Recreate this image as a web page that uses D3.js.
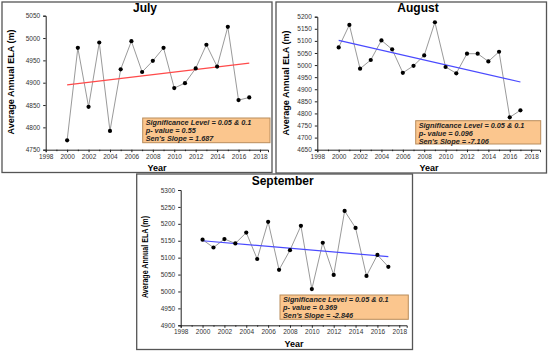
<!DOCTYPE html>
<html>
<head>
<meta charset="utf-8">
<script src="https://cdn.jsdelivr.net/npm/d3@7"></script>
<style>
  body { margin: 0; background: #fff; }
  svg text { font-family: Arial, "Liberation Sans", sans-serif; }
  .tick text { fill: #333; font-size: 6.5px; }
  .tick line, .domain { stroke: #222; }
</style>
</head>
<body>
<div id="chart"></div>
<script>
// ------ Data ---------------//
var years = [2000, 2001, 2002, 2003, 2004, 2005, 2006, 2007, 2008,
             2009, 2010, 2011, 2012, 2013, 2014, 2015, 2016, 2017];

var julyELA = [4771, 4978, 4846, 4990, 4792, 4930, 4993, 4924, 4949,
               4978, 4888, 4899, 4932, 4985, 4936, 5025, 4861, 4867];
var augustELA = [5073, 5166, 4985, 5021, 5102, 5065, 4968, 4997, 5040,
                 5177, 4992, 4966, 5047, 5047, 5015, 5055, 4784, 4813];
var septemberELA = [5153, 5130, 5155, 5142, 5174, 5096, 5206, 5064, 5122,
                    5194, 5007, 5144, 5049, 5238, 5188, 5046, 5108, 5073];

// trend line values at first and last year
var trendYears = [2000, 2017];
var julyTrend = [4895, 4944];
var augustTrend = [5102, 4930];
var septemberTrend = [5150, 5103];

var xTicks = [1998, 2000, 2002, 2004, 2006, 2008, 2010, 2012, 2014, 2016, 2018];
var julyTicks = [4750, 4800, 4850, 4900, 4950, 5000, 5050];
var augustTicks = [4650, 4700, 4750, 4800, 4850, 4900, 4950, 5000, 5050, 5100, 5150, 5200];
var septemberTicks = [4900, 4950, 5000, 5050, 5100, 5150, 5200, 5250, 5300];

var julyStats = ["Significance Level = 0.05 & 0.1", "p- value = 0.55", "Sen's Slope = 1.687"];
var augustStats = ["Significance Level = 0.05 & 0.1", "p- value = 0.096", "Sen's Slope = -7.106"];
var septemberStats = ["Significance Level = 0.05 & 0.1", "p- value = 0.369", "Sen's Slope = -2.846"];

// ------ SVG ---------------//
var width = 550, height = 352;
var svg = d3.select("#chart").append("svg")
    .attr("width", width)
    .attr("height", height);

// ------ One panel ---------------//
function drawPanel(p) {
  var g = svg.append("g");

  // frame
  g.append("rect")
    .attr("x", p.box[0]).attr("y", p.box[1])
    .attr("width", p.box[2] - p.box[0]).attr("height", p.box[3] - p.box[1])
    .attr("fill", "#fff").attr("stroke", "#555").attr("stroke-width", 1.3);

  var x = d3.scaleLinear().domain(p.xDomain).range(p.xRange);
  var y = d3.scaleLinear().domain(p.yDomain).range(p.yRange);

  // minor x ticks
  g.append("g")
    .attr("transform", `translate(0,${p.yRange[0]})`)
    .call(d3.axisBottom(x).tickValues(d3.range(1999, 2019, 2)).tickSize(1.5).tickFormat(""))
    .call(a => a.select(".domain").remove());

  g.append("g")
    .attr("transform", `translate(0,${p.yRange[0]})`)
    .call(d3.axisBottom(x).tickValues(xTicks).tickSize(2.5).tickPadding(2).tickFormat(d3.format("d")));

  g.append("g")
    .attr("transform", `translate(${p.xRange[0]},0)`)
    .call(d3.axisLeft(y).tickValues(p.ticks).tickSize(2.5).tickPadding(3).tickFormat(d3.format("d")));

  // series line
  var pts = years.map((d, i) => [d, p.values[i]]);
  g.append("path")
    .datum(pts)
    .attr("d", d3.line().x(d => x(d[0])).y(d => y(d[1])))
    .attr("fill", "none").attr("stroke", "#9a9a9a").attr("stroke-width", 1);

  // trend line
  g.append("path")
    .datum(trendYears.map((d, i) => [d, p.trend[i]]))
    .attr("d", d3.line().x(d => x(d[0])).y(d => y(d[1])))
    .attr("fill", "none").attr("stroke", p.trendColor).attr("stroke-width", 1.2);

  g.selectAll("circle.pt").data(pts).enter().append("circle")
    .attr("class", "pt")
    .attr("cx", d => x(d[0])).attr("cy", d => y(d[1]))
    .attr("r", 2.1).attr("fill", "#000");

  // title
  g.append("text")
    .attr("x", p.title[1]).attr("y", p.title[2])
    .attr("text-anchor", "middle")
    .attr("font-size", 12).attr("font-weight", "bold")
    .text(p.title[0]);

  // axis labels
  g.append("text")
    .attr("transform", `translate(${p.yLabel[0]},${p.yLabel[1]}) rotate(-90)`)
    .attr("text-anchor", "middle")
    .attr("dominant-baseline", "middle")
    .attr("font-size", 9).attr("font-weight", "bold")
    .attr("textLength", p.yLabel[2]).attr("lengthAdjust", "spacingAndGlyphs")
    .text("Average Annual ELA (m)");

  g.append("text")
    .attr("x", p.xLabel[0]).attr("y", p.xLabel[1])
    .attr("text-anchor", "middle")
    .attr("font-size", 9).attr("font-weight", "bold")
    .text("Year");

  // stats box
  var lb = p.legend;
  g.append("rect")
    .attr("x", lb[0]).attr("y", lb[1])
    .attr("width", lb[2] - lb[0]).attr("height", lb[3] - lb[1])
    .attr("fill", "#fbc68e").attr("stroke", "#b98d5c").attr("stroke-width", 1);

  g.selectAll("text.stat").data(p.stats).enter().append("text")
    .attr("class", "stat")
    .attr("x", lb[0] + 3)
    .attr("y", (d, i) => lb[1] + 7.3 + i * 8)
    .attr("font-size", 7.3).attr("font-weight", "bold").attr("font-style", "italic")
    .attr("fill", "#222")
    .text(d => d);
}

drawPanel({
  box: [2, 2, 272, 172.5],
  xDomain: [1998, 2018.75], xRange: [45.7, 268],
  yDomain: [4750, 5050], yRange: [149.7, 15.7],
  ticks: julyTicks, values: julyELA, trend: julyTrend, trendColor: "#ff4a4a",
  title: ["July", 145, 12],
  yLabel: [12, 82, 105],
  xLabel: [157, 170.5],
  legend: [142.7, 118, 270, 142.7],
  stats: julyStats
});

drawPanel({
  box: [276, 2, 546.5, 173],
  xDomain: [1998, 2018.83], xRange: [317.3, 540],
  yDomain: [4650, 5200], yRange: [149.7, 16.7],
  ticks: augustTicks, values: augustELA, trend: augustTrend, trendColor: "#4a4aff",
  title: ["August", 418, 12],
  yLabel: [287, 83, 105],
  xLabel: [429, 171],
  legend: [415.7, 120.7, 540.7, 144],
  stats: augustStats
});

drawPanel({
  box: [136.7, 174, 412.5, 349.5],
  xDomain: [1998, 2018.68], xRange: [180.7, 406.7],
  yDomain: [4900, 5300], yRange: [325.3, 190],
  ticks: septemberTicks, values: septemberELA, trend: septemberTrend, trendColor: "#4a4aff",
  title: ["September", 282.7, 185],
  yLabel: [145.7, 257, 82],
  xLabel: [294, 346.5],
  legend: [280, 295, 408.3, 319.3],
  stats: septemberStats
});
</script>
</body>
</html>
